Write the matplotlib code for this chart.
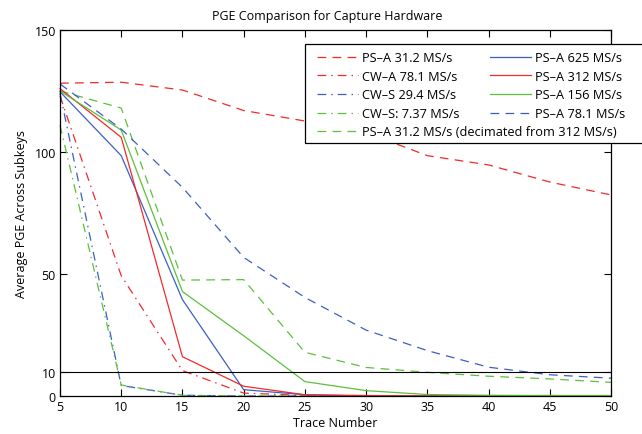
import matplotlib
matplotlib.use("Agg")
import matplotlib.pyplot as plt
from matplotlib.patches import Rectangle

plt.rcParams['font.family'] = ['Open Sans', 'DejaVu Sans']

traces = [5, 10, 15, 20, 25, 30, 35, 40, 45, 50]

labels = ["PS\u2013A 31.2 MS/s", "CW\u2013A 78.1 MS/s", "CW\u2013S 29.4 MS/s",
          "CW\u2013S: 7.37 MS/s", "PS\u2013A 31.2 MS/s (decimated from 312 MS/s)",
          "PS\u2013A 625 MS/s", "PS\u2013A 312 MS/s", "PS\u2013A 156 MS/s", "PS\u2013A 78.1 MS/s"]

psa_31_2 = [128.2, 128.6, 125.4, 117.0, 112.7, 108.0, 98.5, 94.7, 87.7, 82.4]
cwa_78_1 = [123.0, 49.3, 10.4, 1.2, 0.2, 0.0, 0.0, 0.0, 0.0, 0.0]
cws_29_4 = [124.0, 4.3, 0.3, 0.0, 0.0, 0.0, 0.0, 0.0, 0.0, 0.0]
cws_7_37 = [111.0, 4.5, 0.3, 0.0, 0.0, 0.0, 0.0, 0.0, 0.0, 0.0]
psa_31_2_dec = [125.0, 118.0, 47.5, 47.7, 17.9, 11.7, 9.7, 8.1, 7.0, 5.6]
psa_625 = [124.7, 98.5, 39.5, 2.6, 0.5, 0.0, 0.0, 0.0, 0.0, 0.0]
psa_312 = [126.0, 106.0, 16.1, 4.0, 0.5, 0.2, 0.0, 0.0, 0.2, 0.0]
psa_156 = [125.0, 109.0, 42.8, 24.7, 5.9, 2.2, 0.6, 0.3, 0.2, 0.2]
psa_78_1 = [127.9, 109.4, 85.5, 56.8, 40.4, 27.0, 18.6, 11.8, 8.7, 7.3]

series = [psa_31_2, cwa_78_1, cws_29_4, cws_7_37, psa_31_2_dec,
          psa_625, psa_312, psa_156, psa_78_1]

RED = '#f22a2a'
BLUE = '#3d5fc4'
GREEN = '#5cc03c'
colors = [RED, RED, BLUE, GREEN, GREEN, BLUE, RED, GREEN, BLUE]
dash = (0, (7, 5))
dashdot = (0, (7, 4, 1.2, 4))
styles = [dash, dashdot, dashdot, dashdot, dash, '-', '-', '-', dash]

yticks = [0, 10, 50, 100, 150]
xticks = traces

W, H = 642, 435
FS = 9
fig = plt.figure(figsize=(W / 100, H / 100), dpi=100)
ax = fig.add_axes([60 / W, 1 - 397 / H, (611 - 60) / W, (397 - 31) / H])

handles = []
for ys, c, ls, lab in zip(series, colors, styles, labels):
    h, = ax.plot(traces, ys, color=c, linestyle=ls, linewidth=0.9, label=lab, clip_on=False)
    handles.append(h)

ax.axhline(10, color='black', linewidth=0.8)

ax.set_xlim(5, 50)
ax.set_ylim(0, 150)
ax.set_xticks(xticks)
ax.set_yticks(yticks)
ax.tick_params(direction='in', top=True, right=True, length=5, width=0.8, labelsize=FS, pad=3)
for s in ax.spines.values():
    s.set_linewidth(0.9)

ax.set_title("PGE Comparison for Capture Hardware", fontsize=FS, pad=8, x=0.485)
ax.set_xlabel("Trace Number", fontsize=FS, labelpad=2)
ax.set_ylabel("Average PGE Across Subkeys", fontsize=FS, labelpad=5)

# legend: 8 entries in two columns, plus the long entry in its own row
LFS = 9.2
order = [0, 1, 2, 3, 5, 6, 7, 8]
leg1 = fig.legend([handles[i] for i in order], [labels[i] for i in order], ncol=2,
                  loc='upper left', bbox_to_anchor=(317 / W, 1 - 52 / H),
                  frameon=False, fontsize=LFS, handlelength=3.2, handletextpad=0.3,
                  columnspacing=2.4, labelspacing=0.45, borderaxespad=0, borderpad=0)
leg2 = fig.legend([handles[4]], [labels[4]], loc='upper left',
                  bbox_to_anchor=(317 / W, 1 - 126 / H), frameon=False, fontsize=LFS,
                  handlelength=3.2, handletextpad=0.3, borderaxespad=0, borderpad=0)
fig.add_artist(Rectangle((305 / W, 1 - 144 / H), (645 - 305) / W, (144 - 45) / H,
                         transform=fig.transFigure, facecolor='white', edgecolor='black',
                         linewidth=0.9, zorder=2.5))
leg1.set_zorder(3)
leg2.set_zorder(3)

fig.savefig("out.png", dpi=100)
